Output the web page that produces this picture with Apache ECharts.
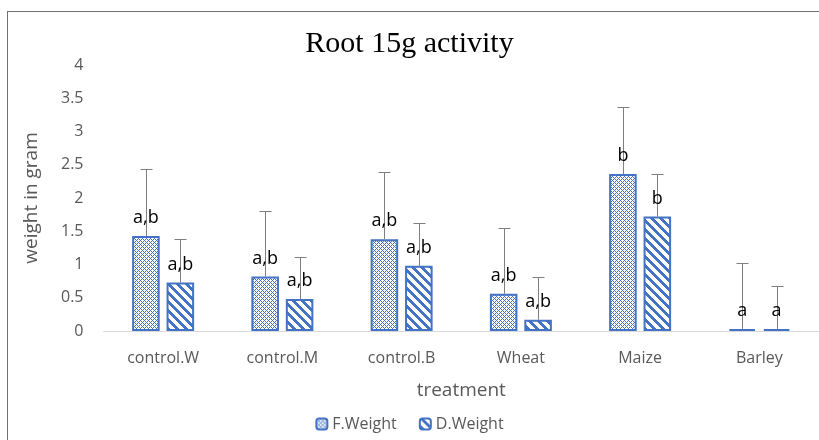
<!DOCTYPE html>
<html lang="en">
<head>
    <meta charset="UTF-8">
    <title>Root 15g activity</title>
    <script src="https://cdn.jsdelivr.net/npm/echarts@6/dist/echarts.min.js"></script>
    <style>
        body { margin: 0; background: #fff; }
        #chart { width: 819px; height: 440px; }
    </style>
</head>
<body>
    <div id="chart"></div>
    <script type="text/javascript">
        // data
        let categories = ['control.W', 'control.M', 'control.B', 'Wheat', 'Maize', 'Barley'];
        let fWeight = [1.43, 0.82, 1.38, 0.56, 2.36, 0.03];
        let dWeight = [0.73, 0.48, 0.98, 0.17, 1.72, 0.03];
        let fErr = [1.01, 0.99, 1.01, 0.99, 1.01, 1.00];
        let dErr = [0.65, 0.64, 0.65, 0.64, 0.64, 0.64];
        let letters = ['a,b', 'a,b', 'a,b', 'a,b', 'b', 'a'];

        const BLUE = '#4472C4';
        const BAR_W = 0.231;   // share of category band
        const BAR_GAP = 0.25;  // gap as share of bar width

        function makePattern(size, test) {
            let c = document.createElement('canvas');
            c.width = size; c.height = size;
            let ctx = c.getContext('2d');
            let img = ctx.createImageData(size, size);
            for (let y = 0; y < size; y++) {
                for (let x = 0; x < size; x++) {
                    let i = (y * size + x) * 4;
                    let on = test(x, y);
                    img.data[i] = on ? 0x44 : 255;
                    img.data[i + 1] = on ? 0x72 : 255;
                    img.data[i + 2] = on ? 0xC4 : 255;
                    img.data[i + 3] = 255;
                }
            }
            ctx.putImageData(img, 0, 0);
            return c;
        }

        let checker = makePattern(4, (x, y) => (x + y) % 4 === 0 || ((x - y) % 4 + 4) % 4 === 0);
        let stripes = makePattern(9, (x, y) => ((x - y) % 9 + 9) % 9 < 4);

        let chart = echarts.init(document.getElementById('chart'));

        function errorSeries(name, values, errs, side) {
            return {
                name: name + ' err',
                type: 'custom',
                z: 1,
                silent: true,
                data: values.map((v, i) => [i, v, errs[i]]),
                encode: {x: 0, y: 1},
                renderItem: function (params, api) {
                    let band = api.size([1, 0])[0];
                    let bw = band * BAR_W;
                    let off = side * (bw + bw * BAR_GAP) / 2;
                    let p0 = api.coord([api.value(0), api.value(1)]);
                    let p1 = api.coord([api.value(0), api.value(1) + api.value(2)]);
                    let x = Math.round(p0[0] + off) + 0.5;
                    let top = Math.round(p1[1]) + 0.5;
                    let st = {stroke: '#7f7f7f', lineWidth: 1};
                    return {
                        type: 'group',
                        children: [
                            {type: 'line', shape: {x1: x, y1: p0[1], x2: x, y2: top}, style: st},
                            {type: 'line', shape: {x1: x - 6, y1: top, x2: x + 6, y2: top}, style: st}
                        ]
                    };
                }
            };
        }

        let labelStyle = {
            show: true,
            position: 'top',
            distance: 9,
            color: '#000',
            fontFamily: 'Open Sans',
            fontSize: 18,
            formatter: p => letters[p.dataIndex]
        };

        let option = {
            animation: false,
            title: {
                text: 'Root 15g activity',
                left: 'center',
                top: 24,
                textStyle: {fontFamily: 'Liberation Serif', fontSize: 30, fontWeight: 'normal', color: '#000'}
            },
            legend: {
                data: ['F.Weight', 'D.Weight'],
                bottom: 3,
                left: 'center',
                itemWidth: 11,
                itemHeight: 11,
                itemGap: 22,
                textStyle: {fontFamily: 'Open Sans', fontSize: 16, color: '#595959'}
            },
            grid: {left: 103.5, top: 65, width: 726, height: 266},
            xAxis: {
                type: 'category',
                data: categories,
                name: 'treatment',
                nameLocation: 'middle',
                nameGap: 50,
                nameTextStyle: {fontFamily: 'Open Sans', fontSize: 19, color: '#595959'},
                axisLine: {lineStyle: {color: '#d9d9d9', width: 1}},
                axisTick: {show: false},
                axisLabel: {margin: 19, fontFamily: 'Open Sans', fontSize: 16, color: '#595959'}
            },
            yAxis: {
                type: 'value',
                min: 0,
                max: 4,
                interval: 0.5,
                name: 'weight in gram',
                nameLocation: 'middle',
                nameGap: 62,
                nameTextStyle: {fontFamily: 'Open Sans', fontSize: 19, color: '#595959'},
                splitLine: {show: false},
                axisLine: {show: false},
                axisLabel: {margin: 20, fontFamily: 'Open Sans', fontSize: 16, color: '#595959'}
            },
            // outer chart frame (only top and left edges are inside the picture)
            graphic: [
                {type: 'rect', silent: true, shape: {x: 7, y: 11, width: 812, height: 1}, style: {fill: '#6f6f6f'}},
                {type: 'rect', silent: true, shape: {x: 7, y: 11, width: 1, height: 429}, style: {fill: '#6f6f6f'}}
            ],
            series: [
                {
                    name: 'F.Weight',
                    type: 'bar',
                    z: 2,
                    barWidth: (BAR_W * 100) + '%',
                    barGap: (BAR_GAP * 100) + '%',
                    data: fWeight,
                    itemStyle: {color: {image: checker, repeat: 'repeat'}, borderColor: BLUE, borderWidth: 2},
                    label: labelStyle
                },
                {
                    name: 'D.Weight',
                    type: 'bar',
                    z: 2,
                    barWidth: (BAR_W * 100) + '%',
                    data: dWeight,
                    itemStyle: {color: {image: stripes, repeat: 'repeat'}, borderColor: BLUE, borderWidth: 2},
                    label: labelStyle
                },
                errorSeries('F.Weight', fWeight, fErr, -1),
                errorSeries('D.Weight', dWeight, dErr, 1)
            ]
        };
        chart.setOption(option);
    </script>
</body>
</html>
